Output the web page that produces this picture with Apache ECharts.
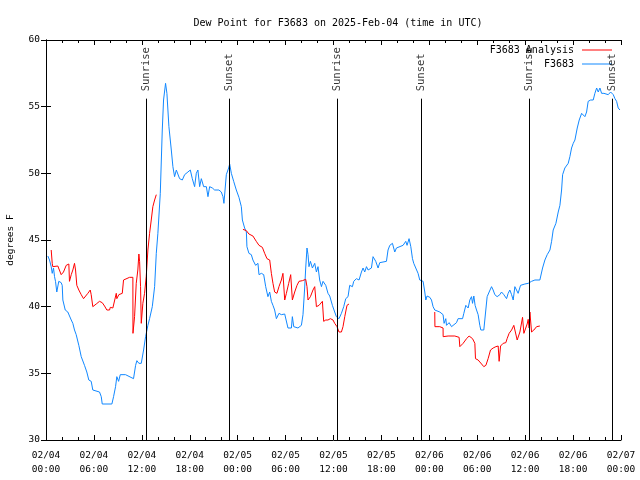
<!DOCTYPE html>
<html>
<head>
<meta charset="utf-8">
<script src="https://cdn.jsdelivr.net/npm/echarts@6/dist/echarts.min.js"></script>
<style>
html,body{margin:0;padding:0;background:#fff;}
#chart{width:640px;height:480px;}
</style>
</head>
<body>
<div id="chart"></div>
<script>
// Hours since 2025-02-04 00:00 UTC, dew point in degrees F
const xTickLabels = ['02/04\n00:00','02/04\n06:00','02/04\n12:00','02/04\n18:00','02/05\n00:00','02/05\n06:00','02/05\n12:00','02/05\n18:00','02/06\n00:00','02/06\n06:00','02/06\n12:00','02/06\n18:00','02/07\n00:00'];

const sunHours = [12.5, 22.95, 36.45, 46.95, 60.55, 70.95];
const sunNames = ['Sunrise','Sunset','Sunrise','Sunset','Sunrise','Sunset'];

const observed = [
[0.23,43.8],[0.44,43.5],[0.65,43.0],[0.78,42.5],[0.94,42.9],[1.07,42.25],[1.19,41.9],[1.35,41.1],[1.60,41.9],[1.90,41.8],
[2.03,41.6],[2.11,40.5],[2.41,39.75],[2.73,39.6],[3.16,39.0],[3.36,38.75],[3.57,38.25],[3.78,37.9],[4.11,37.1],[4.41,36.25],
[4.82,35.6],[5.11,35.1],[5.36,34.5],[5.66,34.4],[5.86,33.75],[6.70,33.6],[6.92,33.25],[7.04,32.7],[8.25,32.7],[8.46,33.25],
[8.71,34.0],[8.87,34.75],[9.09,34.4],[9.30,34.9],[9.96,34.9],[10.13,34.75],[10.96,34.6],[11.22,35.6],[11.38,35.95],[11.63,35.75],
[11.93,35.75],[12.22,36.75],[12.47,37.75],[12.76,38.6],[12.97,39.1],[13.31,40.0],[13.60,41.5],[13.81,44.0],[14.01,45.5],[14.31,48.5],
[14.56,53.25],[14.72,55.5],[14.97,56.75],[15.14,56.0],[15.39,53.5],[15.69,51.75],[15.89,50.5],[16.10,49.75],[16.32,50.25],[16.52,50.4],
[16.73,49.6],[17.07,49.5],[17.36,49.9],[17.77,50.1],[18.07,50.25],[18.32,49.6],[18.61,49.0],[18.82,50.0],[19.02,50.25],[19.24,49.0],
[19.45,49.6],[19.74,49.0],[20.08,49.0],[20.28,48.25],[20.49,49.0],[20.83,48.9],[21.12,48.75],[21.65,48.75],[21.95,48.6],[22.16,48.25],
[22.28,47.75],[22.58,49.9],[22.87,50.4],[23.00,50.7],[23.21,50.0],[23.50,49.4],[23.83,48.75],[24.16,48.2],[24.46,47.5],[24.59,46.5],
[24.87,45.9],[25.09,45.6],[25.16,44.5],[25.41,44.0],[25.71,43.9],[25.91,43.5],[26.25,43.1],[26.54,43.25],[26.67,42.4],[26.97,42.5],
[27.26,42.4],[27.51,41.5],[27.79,40.75],[28.01,41.1],[28.22,40.4],[28.42,40.1],[28.63,39.75],[28.85,39.1],[29.17,39.5],[29.47,39.4],
[29.89,39.45],[30.10,39.4],[30.30,38.4],[30.73,38.4],[30.85,39.25],[31.02,38.5],[31.27,38.6],[31.55,38.4],[31.98,38.6],[32.18,39.4],
[32.39,41.4],[32.52,42.9],[32.68,44.4],[32.81,43.9],[32.93,43.0],[33.11,43.4],[33.36,42.9],[33.65,43.25],[33.86,42.6],[34.06,43.0],
[34.27,42.0],[34.49,41.5],[34.69,41.9],[35.03,41.6],[35.31,41.0],[35.53,40.8],[35.86,40.1],[36.15,39.6],[36.36,39.25],[36.69,39.1],
[36.99,39.5],[37.28,40.0],[37.53,40.6],[37.82,40.75],[38.03,41.6],[38.37,41.5],[38.53,41.9],[38.87,42.1],[39.20,42.0],[39.50,42.6],
[39.70,42.9],[39.91,42.6],[40.13,43.0],[40.33,42.75],[40.75,42.9],[40.95,43.75],[41.29,43.4],[41.58,42.9],[41.79,43.3],[42.63,43.4],
[42.83,44.25],[43.05,44.6],[43.38,44.75],[43.67,44.1],[43.88,44.4],[44.09,44.5],[44.71,44.6],[45.05,44.9],[45.21,44.6],[45.46,45.1],
[45.68,44.5],[45.89,43.6],[46.05,43.25],[46.30,42.9],[46.59,42.5],[46.80,42.0],[47.22,41.9],[47.43,41.1],[47.56,40.5],[47.72,40.8],
[48.06,40.7],[48.27,40.5],[48.47,40.0],[48.68,39.75],[48.90,39.6],[49.31,39.6],[49.52,39.5],[49.72,39.4],[49.85,38.75],[50.06,39.1],
[50.15,38.6],[50.35,38.5],[50.48,38.8],[50.78,38.5],[50.98,38.6],[51.40,38.8],[51.60,39.1],[52.16,39.1],[52.32,39.5],[52.57,40.1],
[52.86,39.9],[53.07,40.5],[53.28,40.75],[53.41,40.25],[53.57,40.8],[53.73,40.1],[53.91,39.75],[54.11,39.4],[54.32,38.6],[54.45,38.25],
[54.66,38.4],[54.82,38.25],[54.99,38.4],[55.24,40.75],[55.49,41.1],[55.79,41.5],[55.99,41.25],[56.20,40.9],[56.49,40.75],[56.83,40.9],
[57.04,41.1],[57.33,40.9],[57.67,40.6],[57.87,41.0],[58.08,41.25],[58.30,40.9],[58.50,40.5],[58.71,41.5],[59.12,41.0],[59.42,41.6],
[59.96,41.7],[60.38,41.75],[60.80,41.9],[61.22,42.0],[61.84,42.0],[62.18,42.9],[62.47,43.5],[62.76,43.9],[63.10,44.25],[63.31,44.9],
[63.51,45.75],[63.85,46.25],[64.14,47.1],[64.35,47.6],[64.56,48.75],[64.69,49.9],[64.97,50.4],[65.39,50.75],[65.60,51.25],[65.81,51.9],
[66.02,52.25],[66.23,52.5],[66.52,53.4],[66.77,54.0],[67.07,54.5],[67.27,54.4],[67.48,54.25],[67.69,54.6],[67.89,55.4],[68.20,55.5],
[68.52,55.5],[68.73,56.0],[68.95,56.4],[69.15,56.1],[69.36,56.4],[69.57,56.0],[69.86,56.0],[70.11,56.1],[70.40,55.9],[70.70,56.1],
[71.03,55.9],[71.24,55.6],[71.45,55.4],[71.65,54.9],[71.87,54.75]
];

const analysis1 = [
[0.65,44.25],[0.78,43.25],[0.85,43.0],[1.07,43.05],[1.48,43.05],[1.69,42.9],[1.90,42.4],[2.19,42.6],[2.53,43.1],[2.86,43.2],
[2.94,41.9],[3.16,42.4],[3.36,42.75],[3.57,43.25],[3.70,42.75],[3.86,41.6],[4.11,41.25],[4.41,40.9],[4.70,40.6],[4.95,40.6],
[5.24,41.0],[5.54,41.25],[5.66,40.9],[5.86,40.0],[6.29,40.2],[6.70,40.4],[7.04,40.3],[7.33,40.05],[7.62,39.75],[7.96,39.75],
[8.05,39.95],[8.37,39.9],[8.58,39.8],[8.80,41.0],[8.87,40.6],[9.12,40.9],[9.55,41.0],[9.71,42.0],[9.96,42.1],[10.46,42.2],
[10.88,42.2],[10.89,38.0],[11.09,39.25],[11.30,41.75],[11.50,42.75],[11.63,43.95],[11.72,43.4],[11.84,41.5],[11.93,38.75],[12.13,40.25],
[12.34,41.0],[12.55,42.25],[12.76,44.25],[12.97,45.5],[13.18,46.5],[13.38,47.5],[13.60,48.0],[13.81,48.4]
];

const analysis2 = [
[24.66,45.8],[25.09,45.7],[25.41,45.45],[25.91,45.3],[26.33,44.9],[26.67,44.6],[27.09,44.45],[27.38,44.0],[27.67,43.6],[28.01,43.5],
[28.22,42.5],[28.42,41.75],[28.63,41.1],[28.92,41.0],[29.17,41.5],[29.47,42.0],[29.67,42.5],[29.89,40.5],[30.10,41.0],[30.39,41.75],
[30.64,42.4],[30.85,40.5],[31.14,41.1],[31.43,41.6],[31.68,41.9],[32.11,41.95],[32.52,42.05],[32.68,41.5],[32.81,40.5],[33.11,40.75],
[33.43,41.25],[33.65,41.5],[33.86,40.0],[34.19,40.1],[34.61,40.4],[34.77,38.9],[35.03,39.0],[35.31,39.0],[35.61,39.1],[35.94,39.0],
[36.15,38.75],[36.44,38.5],[36.69,38.1],[36.99,38.1],[37.19,38.5],[37.41,39.25],[37.69,40.1],[37.94,40.2]
];

const analysis3 = [
[48.68,39.6],[48.70,38.5],[49.31,38.5],[49.72,38.4],[49.73,37.75],[50.35,37.8],[51.19,37.8],[51.73,37.7],[51.82,37.0],[52.23,37.25],
[52.66,37.6],[52.98,37.8],[53.41,37.6],[53.70,37.25],[53.78,36.1],[54.11,36.0],[54.54,35.7],[54.82,35.5],[55.08,35.6],[55.36,36.1],
[55.66,36.75],[55.99,36.9],[56.33,37.0],[56.62,37.05],[56.74,35.9],[56.92,37.05],[57.24,37.25],[57.58,37.3],[57.74,37.6],[57.99,38.0],
[58.30,38.25],[58.58,38.6],[58.83,38.75],[59.00,37.5],[59.34,38.1],[59.67,39.2],[59.84,38.0],[60.09,38.0],[60.25,38.7],[60.38,39.05],
[60.50,38.4],[60.59,39.6],[60.80,38.1],[61.09,38.25],[61.43,38.5],[61.84,38.55]
];

const FONT = 'DejaVu Sans Mono';
const RED = '#ff0000';
const BLUE = '#1188ff';
const sunLineTop = 55.6;
const sunLabelBase = 56.0;

const chart = echarts.init(document.getElementById('chart'), null, {renderer: 'canvas'});

const axisCommon = {
  axisLine: {show: true, lineStyle: {color: '#000', width: 1}},
  splitLine: {show: false},
  axisTick: {show: true, inside: true, length: 5, lineStyle: {color: '#000'}},
};

const sunMarkData = sunHours.map(h => [{coord: [h, 30]}, {coord: [h, sunLineTop]}]);
const sunLabelData = sunHours.map((h, i) => ({name: sunNames[i], value: [h, sunLabelBase]}));

const analysisLine = (d) => ({
  name: 'F3683 Analysis', type: 'line', data: d, showSymbol: false, symbol: 'none',
  lineStyle: {color: RED, width: 1}, itemStyle: {color: RED}, z: 3
});

const legendText = {fontFamily: FONT, fontSize: 10, color: '#000', padding: [0, 3, 0, 0]};

chart.setOption({
  animation: false,
  backgroundColor: '#fff',
  textStyle: {fontFamily: FONT},
  title: {
    text: 'Dew Point for F3683 on 2025-Feb-04 (time in UTC)',
    left: 333, textAlign: 'center', top: 13,
    textStyle: {fontFamily: FONT, fontSize: 10, fontWeight: 'normal', color: '#000'}
  },
  legend: [
    {data: ['F3683 Analysis'], right: 28, top: 45, padding: 0, align: 'right', icon: 'rect', itemWidth: 30, itemHeight: 1,
     textStyle: legendText, selectedMode: false},
    {data: ['F3683'], right: 28, top: 59, padding: 0, align: 'right', icon: 'rect', itemWidth: 30, itemHeight: 1,
     textStyle: legendText, selectedMode: false}
  ],
  grid: {left: 46, top: 40, width: 575, height: 400, containLabel: false, outerBoundsMode: 'none'},
  xAxis: [
    Object.assign({}, axisCommon, {
      type: 'value', min: 0, max: 72, interval: 6, position: 'bottom',
      minorTick: {show: true, splitNumber: 3, length: 3, lineStyle: {color: '#000'}},
      axisLabel: {fontFamily: FONT, fontSize: 9.5, color: '#000', margin: 9, lineHeight: 14,
        formatter: v => xTickLabels[Math.round(v / 6)]}
    }),
    Object.assign({}, axisCommon, {
      type: 'value', min: 0, max: 72, interval: 6, position: 'top',
      minorTick: {show: true, splitNumber: 3, length: 3, lineStyle: {color: '#000'}},
      axisLabel: {show: false}
    })
  ],
  yAxis: [
    Object.assign({}, axisCommon, {
      type: 'value', min: 30, max: 60, interval: 5, position: 'left',
      name: 'degrees F', nameLocation: 'middle', nameGap: 30, nameRotate: 90,
      nameTextStyle: {fontFamily: FONT, fontSize: 9.5, color: '#000'},
      axisLabel: {fontFamily: FONT, fontSize: 9.5, color: '#000', margin: 6}
    }),
    Object.assign({}, axisCommon, {
      type: 'value', min: 30, max: 60, interval: 5, position: 'right',
      axisLabel: {show: false}
    })
  ],
  series: [
    analysisLine(analysis1),
    analysisLine(analysis2),
    analysisLine(analysis3),
    {
      name: 'F3683', type: 'line', data: observed, showSymbol: false, symbol: 'none',
      lineStyle: {color: BLUE, width: 1}, itemStyle: {color: BLUE}, z: 2
    },
    {
      name: 'sun', type: 'scatter', data: sunLabelData, symbolSize: 1,
      itemStyle: {color: 'rgba(0,0,0,0)'}, silent: true, z: 4,
      label: {show: true, formatter: '{b}', position: 'inside', rotate: 90, align: 'left',
        verticalAlign: 'middle', offset: [2, 0], fontFamily: FONT, fontSize: 10.5, color: '#000'},
      markLine: {silent: true, symbol: 'none', animation: false,
        lineStyle: {color: '#000', width: 1, type: 'solid'}, label: {show: false},
        data: sunMarkData}
    }
  ]
});
</script>
</body>
</html>
